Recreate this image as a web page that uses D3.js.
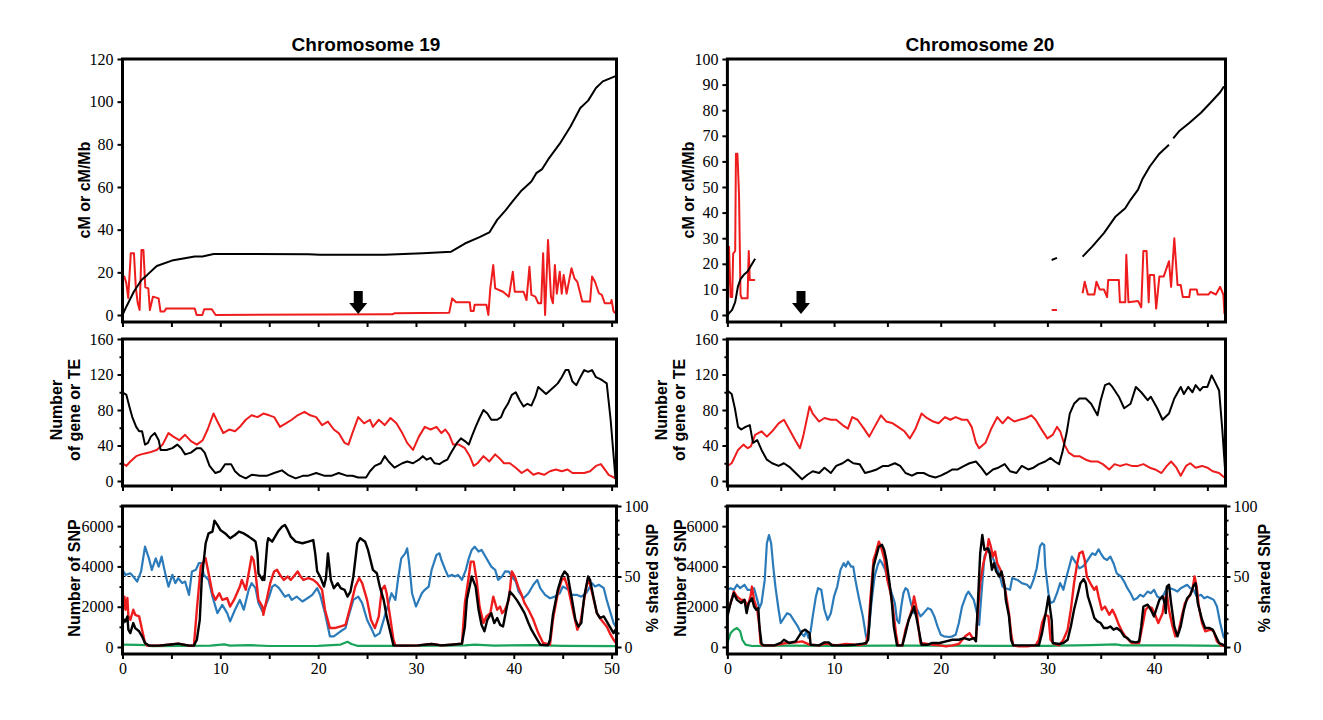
<!DOCTYPE html>
<html><head><meta charset="utf-8">
<script src="https://cdn.jsdelivr.net/npm/d3@7"></script>
<style>
body{margin:0;background:#fff;}
svg{display:block;}
</style></head><body>
<svg id="chart" width="1323" height="720"></svg>
<script>
// ---------------- DATA ----------------
const titles = ["Chromosome 19", "Chromosome 20"];
const chrLength = [50.5, 46.7];
const centromere = [24.1, 6.9];

const xTicks19 = [0,5,10,15,20,25,30,35,40,45,50];
const xTicks20 = [0,5,10,15,20,25,30,35,40,45];
const xLabels = [0,10,20,30,40,50];
const cmTicks19 = [0,20,40,60,80,100,120];
const cmTicks20 = [0,10,20,30,40,50,60,70,80,90,100];
const geneTicks = [0,40,80,120,160];
const geneMinor = [20,60,100,140];
const snpTicks = [0,2000,4000,6000];
const snpMinor = [1000,3000,5000,7000];
const pctTicks = [0,50,100];
const pctMinor = [10,20,30,40,60,70,80,90];
const snpMax = 7000;
const sharedThreshold = 50;

// chr19 genetic map (cM) and recombination rate (cM/Mb)
const cM19 = [[0,0],[0.39,3.9],[1.17,11],[1.94,16.4],[2.53,18.8],[3.5,23],[5.05,25.5],[7.38,27.4],[8.16,27.4],[9.32,28.6],[11.3,28.6],[19.0,28.5],[20.2,28.2],[26.8,28.2],[30.7,29],[33.6,29.7],[35.0,33.5],[36.5,36.5],[37.5,38.7],[38.3,44.6],[39.2,49.3],[40.0,54],[40.8,58.4],[41.8,62.6],[42.3,66.5],[42.9,68.4],[43.5,72.8],[44.7,80.3],[45.8,88.4],[46.8,97],[47.6,100.5],[48.4,106.4],[49.1,109.5],[50.4,112]];
const rate19 = [[0,18],[0.19,18],[0.39,15],[0.58,8],[0.85,29],[1.17,29],[1.36,13],[1.55,5.8],[1.75,2.3],[1.94,30.5],[2.14,30.5],[2.33,13],[2.64,12.5],[2.8,2.3],[3.11,8.6],[3.69,7.8],[3.89,1.6],[4.27,1.6],[4.47,3.1],[7.38,3.1],[7.58,0],[8.16,0],[8.35,2.7],[9.13,2.7],[9.52,0],[27.6,0.3],[27.8,0.8],[33.4,1.1],[33.7,7.8],[34.1,6],[35.5,6],[35.6,1.9],[35.9,1.9],[36.0,4.8],[37.2,4.8],[37.4,0],[37.6,12.5],[37.9,23.4],[38.1,12.5],[38.9,10.9],[39.5,8.6],[39.9,20.3],[40.1,10.9],[41.0,10.9],[41.3,7],[41.6,22.6],[41.8,9.4],[42.2,8.6],[42.5,5.5],[42.8,5.5],[43.0,29],[43.2,0],[43.5,35.2],[43.8,8.6],[44.0,5.5],[44.2,23.4],[44.4,10],[44.7,20.3],[44.9,10],[45.1,18.8],[45.4,10],[45.9,21.9],[46.2,17.2],[46.5,15.5],[47.0,6.3],[47.8,6.3],[48.0,18],[48.3,15.6],[48.7,10.2],[49.0,9.4],[49.3,5.5],[49.9,5.5],[50.0,7],[50.2,1.6],[50.4,0.8]];

// chr20 genetic map (cM) and recombination rate (cM/Mb); null = gap
const cM20 = [[0,0],[0.44,2],[0.73,5],[0.98,11],[1.23,14],[1.52,15.6],[1.89,17],[2.25,19.5],[2.6,22],[2.7,null],[30.4,21.5],[30.9,22.3],[31,null],[33.3,22.8],[34.2,26.7],[35.3,32],[36.4,38.5],[37.3,41.7],[37.8,45],[38.5,49],[38.9,53],[39.6,58],[40.5,63],[41.4,66.5],[41.6,null],[41.8,69],[42.4,72],[43.3,75],[44.4,79],[45.4,83.4],[46.2,87],[46.5,89],[46.7,89.3]];
const rate20 = [[0,0],[0.15,26.7],[0.3,7],[0.45,7],[0.54,24],[0.73,25],[0.8,63],[0.94,63],[1.09,47],[1.23,8],[1.34,6.5],[1.89,6.5],[2.0,25],[2.1,13.7],[2.6,13.7],[2.7,null],[30.4,2],[30.9,2],[31,null],[33.3,8.5],[33.5,13],[33.8,8],[34.4,8],[34.6,13],[34.9,10],[35.3,10],[35.6,7],[35.7,13.7],[36.7,13.7],[36.8,5],[37.3,5],[37.4,23.5],[37.6,5],[38.5,5.5],[38.8,3],[39.0,25],[39.3,25],[39.5,5],[39.6,15.6],[40.0,15.6],[40.2,2.5],[40.5,15],[40.9,15],[41.4,21],[41.6,11],[41.9,30],[42.2,11.7],[42.5,11.7],[42.7,7],[43.3,7],[43.4,10],[44.0,10],[44.1,8],[45.1,8],[45.3,9],[45.8,8],[46.2,11],[46.5,8],[46.6,0.6],[46.7,0]];

// number of genes (black) and TE (red) per window
const gene19 = [[0,100],[0.4,97],[0.7,84],[1.0,72],[1.4,61],[1.7,56],[2.0,56],[2.3,41],[2.6,43],[2.9,50],[3.3,54],[3.7,46],[3.9,35],[4.5,35],[5.1,37],[5.6,41],[6.0,37],[6.4,30],[7.0,32],[7.6,37],[8.0,37],[8.4,32],[8.9,17],[9.5,9],[10.0,11],[10.5,19],[11.1,19],[11.5,11],[12.0,6],[12.6,3],[13.2,7],[14.0,6],[14.8,6],[15.5,9],[16.3,12],[16.9,7],[17.7,3],[18.5,6],[19.0,6],[19.8,9],[20.6,6],[21.4,6],[22.1,9],[22.9,6],[23.5,6],[24.1,4],[24.9,4],[25.3,11],[25.8,17],[26.4,20],[26.8,28],[27.2,22],[27.8,15],[28.6,20],[29.1,22],[29.7,20],[30.3,24],[30.7,28],[31.1,24],[31.5,26],[31.9,20],[32.4,19],[32.8,22],[33.2,24],[33.6,32],[34.2,43],[34.6,48],[35.0,45],[35.4,41],[35.7,50],[36.1,61],[36.5,71],[36.9,80],[37.3,76],[37.7,69],[38.3,69],[38.7,72],[39.0,80],[39.4,87],[39.8,97],[40.2,100],[40.6,91],[41.0,84],[41.4,87],[41.8,85],[42.2,95],[42.5,106],[42.9,102],[43.3,98],[43.7,102],[44.1,106],[44.5,110],[44.9,117],[45.3,125],[45.6,125],[46.0,112],[46.4,108],[46.8,117],[47.2,125],[47.6,123],[48.0,125],[48.4,117],[48.8,115],[49.1,113],[49.5,110],[49.9,69],[50.4,2]];
const te19 = [[0,20],[0.4,17],[0.8,22],[1.4,28],[1.9,30],[2.7,32],[3.5,35],[4.1,41],[4.7,54],[5.2,50],[5.8,46],[6.4,52],[7.0,45],[7.6,41],[8.2,46],[8.7,58],[9.3,76],[9.7,67],[10.3,54],[10.9,58],[11.5,56],[12.0,61],[12.6,69],[13.2,74],[13.8,72],[14.4,76],[15.0,74],[15.5,72],[16.1,61],[16.7,65],[17.3,69],[17.9,74],[18.6,78],[19.2,74],[19.8,72],[20.4,63],[21.0,67],[21.6,58],[22.1,54],[22.7,43],[23.1,41],[23.5,54],[24.1,72],[24.7,65],[25.3,69],[25.6,61],[26.2,69],[26.8,63],[27.4,71],[28.0,65],[28.6,54],[29.1,43],[29.7,35],[30.3,50],[30.9,61],[31.5,58],[32.1,61],[32.6,54],[33.0,58],[33.4,52],[33.8,41],[34.4,41],[35.0,37],[35.5,28],[35.9,17],[36.3,20],[36.9,28],[37.5,22],[38.1,30],[38.5,26],[39.0,20],[39.6,20],[40.2,15],[40.8,9],[41.4,13],[42.0,7],[42.5,9],[43.1,7],[43.7,11],[44.3,13],[44.9,11],[45.5,13],[46.0,9],[46.6,9],[47.2,9],[47.8,11],[48.4,17],[48.9,19],[49.3,13],[49.7,7],[50.4,3]];
const gene20 = [[0,102],[0.4,98],[0.7,82],[1.0,61],[1.3,58],[1.7,61],[2.1,63],[2.4,43],[2.8,46],[3.2,35],[3.7,24],[4.2,20],[4.8,17],[5.3,20],[5.9,15],[6.4,9],[7.0,2],[7.5,7],[8.0,11],[8.6,9],[9.1,15],[9.7,9],[10.2,17],[10.8,20],[11.3,24],[11.8,20],[12.4,19],[12.9,9],[13.5,11],[14.0,13],[14.6,17],[15.1,17],[15.7,20],[16.2,17],[16.7,9],[17.3,6],[17.8,9],[18.4,9],[18.9,6],[19.5,4],[20.0,6],[20.5,9],[21.1,13],[21.6,13],[22.2,17],[22.7,20],[23.3,22],[23.8,15],[24.3,7],[24.9,13],[25.4,15],[26.0,19],[26.5,11],[27.1,9],[27.6,17],[28.2,13],[28.7,15],[29.2,19],[29.8,22],[30.3,26],[30.7,22],[31.1,19],[31.4,32],[31.8,54],[32.1,76],[32.5,87],[33.0,93],[33.6,93],[34.1,87],[34.7,74],[35.0,91],[35.4,108],[35.8,110],[36.1,106],[36.7,95],[37.2,82],[37.8,87],[38.3,106],[38.8,100],[39.4,91],[39.7,95],[40.3,82],[40.8,69],[41.4,76],[41.9,93],[42.5,106],[42.8,98],[43.2,106],[43.6,100],[43.9,108],[44.3,102],[44.6,106],[45.0,106],[45.4,119],[45.7,112],[46.1,102],[46.4,58],[46.7,6]];
const te20 = [[0,17],[0.4,20],[1.0,35],[1.5,41],[1.9,37],[2.2,39],[2.6,52],[3.2,56],[3.7,50],[4.2,56],[4.8,65],[5.3,69],[5.9,56],[6.4,45],[6.8,37],[7.1,50],[7.7,84],[8.0,76],[8.6,67],[9.1,71],[9.7,69],[10.2,69],[10.8,63],[11.3,59],[11.7,72],[12.2,69],[12.8,59],[13.3,50],[13.8,61],[14.4,74],[14.9,67],[15.5,65],[16.0,61],[16.6,56],[17.1,48],[17.6,58],[18.2,76],[18.7,71],[19.3,67],[19.8,65],[20.4,72],[20.9,69],[21.4,72],[22.0,69],[22.5,69],[22.9,61],[23.3,43],[23.6,37],[24.2,43],[24.7,58],[25.3,72],[25.8,65],[26.3,72],[26.9,67],[27.4,69],[28.0,71],[28.5,74],[28.9,69],[29.4,59],[30.0,48],[30.5,52],[30.9,61],[31.2,56],[31.6,41],[32.0,32],[32.5,28],[33.0,28],[33.6,24],[34.1,22],[34.7,22],[35.2,19],[35.8,13],[36.3,19],[36.8,17],[37.4,19],[37.9,17],[38.5,17],[39.0,19],[39.6,15],[40.1,13],[40.7,9],[41.2,17],[41.6,22],[42.1,15],[42.5,6],[43.0,17],[43.4,20],[43.9,15],[44.5,17],[45.0,15],[45.5,11],[46.1,9],[46.4,6],[46.7,3]];

// SNP counts per window
const snpBlue19 = [[0,3830],[0.3,3580],[0.8,3660],[1.1,3500],[1.5,3250],[1.9,3750],[2.3,4980],[2.7,4400],[3.0,3830],[3.4,4400],[3.7,3990],[4.0,4490],[4.4,3580],[4.7,3000],[5.1,3580],[5.4,3170],[5.7,3420],[6.1,3170],[6.4,3250],[6.8,2590],[7.1,3750],[7.5,3830],[7.8,4160],[8.1,4160],[8.3,3580],[8.8,3330],[9.2,2500],[9.7,1680],[10.2,2090],[10.7,1680],[11.0,1270],[11.5,1850],[12.0,2340],[12.4,1850],[12.9,2840],[13.2,3170],[13.6,2920],[13.9,2180],[14.3,1770],[14.6,2010],[15.0,2510],[15.3,3000],[15.6,3090],[16.0,2920],[16.6,2500],[17.0,2590],[17.3,2340],[17.8,2500],[18.4,2260],[18.9,2420],[19.4,2590],[19.9,2920],[20.2,2590],[20.7,1680],[21.2,530],[21.6,530],[22.3,780],[22.8,940],[23.1,1520],[23.6,2340],[24.1,2500],[24.5,2180],[25.0,1350],[25.5,860],[25.8,530],[26.3,690],[26.8,1520],[27.2,2180],[27.5,2670],[27.9,2340],[28.2,3500],[28.5,4400],[28.9,4650],[29.1,4900],[29.3,4160],[29.6,2670],[30.0,2010],[30.3,2340],[30.6,2670],[30.9,2840],[31.3,3000],[31.6,3830],[32.1,4570],[32.4,4650],[32.6,4320],[33.0,3830],[33.3,3500],[33.7,3580],[34.0,3500],[34.3,3580],[34.7,3330],[35.1,3830],[35.4,4400],[35.7,4820],[36.0,4980],[36.4,4740],[36.7,4820],[37.1,4490],[37.4,4240],[37.7,3990],[38.1,3830],[38.4,3330],[38.8,3500],[39.1,3750],[39.5,3740],[39.8,3500],[40.2,3250],[40.5,2750],[41.0,2420],[41.5,2670],[42.0,3090],[42.4,3330],[42.7,2920],[43.2,2590],[43.7,2420],[44.2,2500],[44.7,2670],[45.0,3000],[45.6,2840],[45.9,2590],[46.4,2590],[46.9,2500],[47.4,2670],[48.0,3170],[48.3,3000],[48.7,3090],[49.2,2920],[49.5,2340],[49.9,1680],[50.2,1190],[50.5,940]];
const snpRed19 = [[0,2010],[0.2,2500],[0.3,1850],[0.5,2430],[0.6,1520],[0.8,1350],[1.1,1850],[1.3,1600],[1.7,1520],[2.0,860],[2.3,200],[2.5,70],[3.7,70],[4.7,115],[5.7,165],[6.8,70],[7.3,70],[7.6,1850],[8.0,4000],[8.5,4400],[8.8,3660],[9.2,2670],[9.5,2340],[9.9,2670],[10.2,2340],[10.7,2420],[11.0,2010],[11.4,2340],[11.7,2670],[12.0,3000],[12.2,3330],[12.6,2840],[12.9,3660],[13.2,4490],[13.4,4320],[13.6,3660],[13.9,2340],[14.3,2010],[14.4,1600],[14.8,2500],[15.1,3170],[15.5,3750],[15.8,3830],[16.1,3580],[16.5,3330],[16.9,3500],[17.2,3330],[17.5,3500],[17.9,3750],[18.2,3500],[18.5,3330],[19.0,3420],[19.5,3330],[19.9,3170],[20.4,2840],[20.7,1850],[21.2,940],[21.7,940],[22.3,1020],[22.8,1100],[23.3,2010],[23.8,3000],[24.2,3420],[24.5,3170],[25.0,2340],[25.4,1350],[25.8,940],[26.2,1520],[26.5,2840],[26.8,3040],[27.0,2670],[27.3,1680],[27.7,360],[27.9,70],[28.9,70],[30.2,80],[31.6,150],[32.6,80],[33.6,115],[34.7,165],[35.0,2180],[35.4,3500],[35.6,4240],[35.9,4240],[36.2,3330],[36.5,2010],[36.9,1190],[37.2,1520],[37.6,1680],[37.9,2500],[38.3,1850],[38.6,2010],[38.8,1680],[39.1,1850],[39.5,2340],[39.8,3750],[40.1,3500],[40.5,2920],[40.8,2590],[41.1,2180],[41.5,1850],[42.0,1350],[42.5,690],[43.0,200],[43.7,120],[44.0,1350],[44.5,2670],[44.9,3330],[45.2,3420],[45.6,2840],[46.1,1680],[46.5,860],[46.8,1190],[47.3,2670],[47.6,3420],[47.9,2920],[48.5,1680],[48.8,1440],[49.2,1190],[49.5,1020],[49.9,610],[50.2,360],[50.5,165]];
const snpBlack19 = [[0,1100],[0.2,1350],[0.3,1270],[0.5,1520],[0.6,860],[0.8,690],[1.1,1190],[1.3,940],[1.7,780],[2.0,530],[2.3,200],[2.7,70],[3.7,70],[4.7,115],[5.7,165],[6.8,70],[7.3,70],[7.6,360],[7.9,1350],[8.1,3330],[8.5,5150],[8.8,5640],[9.2,5730],[9.4,6270],[9.7,6060],[10.0,5810],[10.5,5640],[11.0,5400],[11.5,5560],[11.9,5730],[12.4,5640],[12.9,5480],[13.4,5310],[13.6,5230],[13.8,4650],[13.9,3660],[14.3,3330],[14.4,3500],[14.5,3330],[14.8,5150],[14.9,5400],[15.3,5230],[15.6,5480],[15.9,5730],[16.3,5970],[16.6,6060],[16.8,5890],[17.2,5480],[17.7,5230],[18.4,5150],[19.0,5230],[19.5,5310],[19.7,4650],[19.9,3750],[20.2,3500],[20.6,3000],[20.8,3420],[21.0,4650],[21.3,3330],[21.6,2920],[22.0,3170],[22.3,2920],[22.7,2840],[23.0,2500],[23.3,2750],[23.6,3500],[24.0,5150],[24.3,5400],[24.8,5230],[25.1,4820],[25.6,3830],[26.0,3660],[26.3,3000],[26.7,2340],[27.0,1520],[27.4,690],[27.7,80],[28.9,70],[30.2,80],[31.6,150],[32.6,80],[33.6,115],[34.7,165],[35.0,1020],[35.2,2340],[35.7,3500],[36.1,3000],[36.4,1850],[36.7,1100],[37.0,780],[37.3,1350],[37.7,1680],[38.0,1190],[38.3,1440],[38.6,1100],[38.9,1020],[39.3,2010],[39.6,2750],[39.9,2590],[40.3,2340],[40.6,2100],[41.1,1680],[41.5,1190],[41.8,860],[42.3,445],[42.7,115],[43.5,80],[43.7,360],[44.0,1600],[44.5,2840],[44.9,3500],[45.2,3750],[45.5,3580],[45.9,2500],[46.3,1350],[46.6,1020],[46.9,1190],[47.2,2500],[47.6,3500],[47.8,3330],[48.2,2340],[48.5,1680],[48.8,1440],[49.2,1520],[49.5,1270],[49.9,940],[50.2,690],[50.5,940]];
const snpGreen19 = [[0,120],[1.5,110],[2.5,90],[3.0,40],[6,60],[9,70],[10.4,130],[11,70],[13,90],[15,50],[20,60],[22.3,120],[23.0,260],[23.4,150],[24,60],[30,60],[35,80],[36,120],[38,70],[42,90],[45,60],[50.5,40]];

const snpBlue20 = [[0,2840],[0.3,2920],[0.6,2840],[0.9,3090],[1.2,2920],[1.6,3090],[1.9,2840],[2.2,2840],[2.5,2920],[2.8,2340],[3.0,1930],[3.2,2180],[3.5,3330],[3.7,5150],[3.9,5560],[4.1,5150],[4.3,3990],[4.5,3000],[4.8,1850],[5.0,1190],[5.3,1440],[5.6,1680],[5.9,1600],[6.2,1350],[6.6,1020],[6.9,690],[7.2,530],[7.4,780],[7.6,445],[7.8,780],[8.0,1520],[8.3,2510],[8.5,2920],[8.8,2840],[9.1,1850],[9.4,1350],[9.7,1680],[10.0,2510],[10.3,3000],[10.6,3830],[10.9,4160],[11.1,3990],[11.3,4240],[11.6,3990],[11.8,3990],[12.0,3330],[12.3,2510],[12.7,1520],[13.0,530],[13.1,360],[13.3,1020],[13.5,2180],[13.8,3500],[14.1,4080],[14.3,4320],[14.5,4160],[14.8,3830],[15.2,3000],[15.5,2510],[15.7,2180],[15.9,1350],[16.1,1190],[16.3,2010],[16.5,2670],[16.7,2920],[16.9,2840],[17.2,2180],[17.5,1680],[17.8,1850],[18.1,1520],[18.4,1680],[18.8,1930],[19.1,1850],[19.4,1520],[19.7,1020],[20.0,610],[20.3,530],[20.8,495],[21.1,530],[21.4,610],[21.7,1190],[22.0,2010],[22.4,2590],[22.6,2750],[22.8,2590],[23.1,2340],[23.4,1680],[23.6,1100],[23.8,2500],[24.1,4500],[24.5,4900],[24.9,4400],[25.3,3900],[25.6,3400],[25.8,3000],[26.1,2920],[26.5,2840],[26.7,3420],[27.2,3330],[27.6,3170],[28.1,3090],[28.4,2920],[28.7,3330],[29.0,3910],[29.3,4980],[29.5,5150],[29.7,5070],[29.8,3990],[30.1,2670],[30.3,2180],[30.6,2260],[30.9,2670],[31.2,3170],[31.5,2840],[31.8,3500],[32.1,4080],[32.3,4490],[32.6,4240],[33.0,3910],[33.3,3990],[33.6,4160],[33.9,4410],[34.2,4650],[34.5,4570],[34.8,4850],[35.0,4650],[35.3,4410],[35.6,4320],[35.9,4490],[36.2,4160],[36.5,3660],[36.9,3500],[37.2,3250],[37.5,2920],[37.8,2670],[38.1,2340],[38.4,2420],[38.7,2590],[39.0,2500],[39.4,2750],[39.7,2670],[40.0,2840],[40.3,2510],[40.6,2420],[40.9,2590],[41.2,2920],[41.5,2920],[41.9,2840],[42.2,2750],[42.5,2920],[42.8,3000],[43.1,3090],[43.4,2920],[43.7,2840],[44.0,2510],[44.4,2590],[44.7,2420],[45.0,2500],[45.3,2420],[45.6,2340],[45.9,2010],[46.2,1190],[46.5,530],[46.7,360]];
const snpRed20 = [[0,1680],[0.3,2180],[0.6,2750],[0.9,2500],[1.3,2340],[1.6,2340],[1.9,2010],[2.2,2590],[2.3,3000],[2.5,2340],[2.8,1850],[3.0,1020],[3.1,200],[3.3,80],[4.5,80],[5.5,200],[6.4,230],[7.0,280],[7.7,115],[8.6,80],[9.2,165],[10.2,80],[11.1,150],[12.3,100],[13.0,165],[13.2,690],[13.4,2340],[13.7,4320],[13.9,4650],[14.2,5230],[14.4,4980],[14.7,4410],[15.0,3330],[15.3,2670],[15.5,2010],[15.8,690],[16.0,80],[16.4,80],[16.7,860],[17.0,1350],[17.3,1850],[17.5,2510],[17.7,2010],[17.9,1020],[18.1,200],[18.6,165],[19.2,115],[19.9,80],[20.5,33],[21.1,80],[21.7,150],[22.3,530],[22.7,690],[23.0,445],[23.3,400],[23.5,1850],[23.7,3170],[24.0,4160],[24.4,4980],[24.5,5350],[24.7,4980],[24.9,4490],[25.1,4740],[25.3,4160],[25.6,3830],[25.8,3500],[26.1,2670],[26.4,1680],[26.6,690],[26.8,80],[27.3,33],[28.1,33],[28.9,80],[29.2,360],[29.5,1190],[29.8,1600],[30.1,1520],[30.3,360],[30.6,165],[31.1,80],[31.5,360],[31.9,860],[32.2,1850],[32.5,3170],[32.8,4160],[33.0,4650],[33.3,4740],[33.5,4320],[33.7,3500],[34.1,3090],[34.4,2840],[34.6,3000],[34.8,2510],[35.1,1850],[35.4,2010],[35.8,1600],[36.1,1850],[36.4,1520],[36.7,1100],[37.0,780],[37.3,530],[37.6,360],[37.9,200],[38.6,200],[38.9,1020],[39.2,1850],[39.5,2010],[39.8,1930],[40.1,1600],[40.4,1190],[40.8,1680],[41.0,2340],[41.2,2670],[41.4,1850],[41.7,1100],[42.0,530],[42.3,780],[42.6,1520],[42.9,2180],[43.3,2510],[43.6,2840],[43.8,3500],[44.0,3000],[44.2,2010],[44.5,1190],[44.8,780],[45.3,860],[45.6,780],[45.9,280],[46.3,80],[46.7,33]];
const snpBlack20 = [[0,1520],[0.3,2180],[0.6,2670],[0.9,2340],[1.3,2180],[1.6,2340],[1.8,1680],[2.0,2180],[2.3,2420],[2.5,2010],[2.7,1850],[2.9,1930],[3.0,1020],[3.2,165],[3.4,80],[4.4,80],[5.0,200],[5.3,360],[5.8,200],[6.4,280],[6.7,530],[7.0,780],[7.3,860],[7.7,690],[7.8,115],[8.6,80],[9.1,230],[9.5,230],[9.8,80],[11.1,80],[12.0,115],[12.7,165],[13.0,200],[13.2,360],[13.4,1850],[13.7,3990],[13.9,4410],[14.2,4980],[14.5,5070],[14.7,4820],[14.9,4320],[15.2,3170],[15.4,2340],[15.6,1020],[15.9,80],[16.4,80],[16.7,690],[17.0,1350],[17.4,1850],[17.5,2010],[17.7,1520],[18.0,690],[18.2,115],[18.8,115],[19.2,200],[19.9,200],[20.5,280],[21.1,360],[21.7,360],[22.2,445],[22.7,360],[23.1,445],[23.3,280],[23.5,2340],[23.7,4650],[23.9,5560],[24.1,4820],[24.4,4900],[24.6,4650],[24.8,3830],[25.0,4160],[25.2,3750],[25.5,3500],[25.7,3750],[26.0,3000],[26.1,2340],[26.4,1520],[26.6,360],[26.8,80],[29.2,80],[29.5,690],[29.9,1850],[30.1,2510],[30.4,1350],[30.5,200],[31.1,150],[31.5,200],[31.9,360],[32.2,1020],[32.5,1850],[32.8,2510],[33.1,3170],[33.4,3370],[33.6,3170],[33.8,2510],[34.1,2010],[34.4,1440],[34.7,1270],[35.0,1190],[35.3,940],[35.6,940],[35.9,1020],[36.2,860],[36.5,940],[36.9,780],[37.2,530],[37.5,445],[37.8,280],[38.3,230],[38.6,280],[38.8,1020],[39.0,2010],[39.4,2100],[39.7,1850],[40.0,1520],[40.2,1850],[40.5,2340],[40.8,2510],[41.0,2180],[41.1,1680],[41.2,3000],[41.4,3090],[41.6,2180],[41.9,1020],[42.2,530],[42.5,1020],[42.8,1850],[43.1,2420],[43.4,2590],[43.7,3040],[43.9,3170],[44.1,2180],[44.5,1350],[44.8,940],[45.2,940],[45.5,860],[45.8,530],[46.1,200],[46.6,80],[46.7,115]];
const snpGreen20 = [[0,200],[0.3,690],[0.6,860],[0.9,940],[1.2,780],[1.4,360],[1.7,115],[2.3,50],[6,70],[10,60],[15,70],[20,70],[25,60],[30,60],[34,90],[36.4,130],[37,80],[42,80],[46.7,60]];

// ---------------- LAYOUT / STYLE ----------------
const colLayout = [{x0:122.5, x1:616.5}, {x0:727.4, x1:1225.5}];
const rowLayout = {
  top:{zero:315, max:59, bottom:322},
  mid:{zero:481, max:339, bottom:486},
  bot:{zero:647, max:506, bottom:654}
};
const C = {red:"#ee1c1c", black:"#000", blue:"#2b7bba", green:"#1aa35a"};
const serif = "Liberation Serif";
const sans = "Liberation Sans";
const fmt = d3.format("d");

const svg = d3.select("#chart");
svg.append("rect").attr("width",1323).attr("height",720).attr("fill","#fff");

const chrData = [
  {cM:cM19, rate:rate19, cmMax:120, cmTicks:cmTicks19, gene:gene19, te:te19,
   blue:snpBlue19, red:snpRed19, black:snpBlack19, green:snpGreen19, xTicks:xTicks19},
  {cM:cM20, rate:rate20, cmMax:100, cmTicks:cmTicks20, gene:gene20, te:te20,
   blue:snpBlue20, red:snpRed20, black:snpBlack20, green:snpGreen20, xTicks:xTicks20}
];

function styleAxis(g) {
  g.attr("font-family", serif).attr("font-size", 16);
  g.selectAll(".domain").remove();
  g.selectAll(".tick line").attr("stroke", "#000").attr("stroke-width", 2);
  g.selectAll(".tick text").attr("font-family", serif).attr("font-size", 16).attr("fill", "#000");
}

let clipId = 0;
function panel(x, row, y, yTicks, yMinor, showXLabels) {
  const g = svg.append("g");
  const [x0, x1] = x.range();
  const id = "clip" + (clipId++);
  svg.append("clipPath").attr("id", id).append("rect")
    .attr("x", x0).attr("y", row.max).attr("width", x1 - x0).attr("height", row.bottom - row.max);
  const plot = g.append("g").attr("clip-path", `url(#${id})`);
  g.append("g").attr("transform", `translate(${x0},0)`)
    .call(d3.axisLeft(y).tickValues(yTicks).tickSize(5).tickPadding(4).tickFormat(fmt)).call(styleAxis);
  if (yMinor) g.append("g").attr("transform", `translate(${x0},0)`)
    .call(d3.axisLeft(y).tickValues(yMinor).tickSize(3).tickFormat("")).call(styleAxis);
  g.append("g").attr("transform", `translate(0,${row.bottom})`)
    .call(d3.axisBottom(x).tickValues(x.ticksList).tickSize(5).tickPadding(4)
      .tickFormat(d => (showXLabels && xLabels.includes(d)) ? fmt(d) : "")).call(styleAxis);
  return {g, plot, frame: () => g.append("rect").attr("x", x0).attr("y", row.max)
      .attr("width", x1 - x0).attr("height", row.bottom - row.max)
      .attr("fill", "none").attr("stroke", "#000").attr("stroke-width", 3)};
}

function drawLine(parent, data, x, y, color, width) {
  parent.append("path").datum(data)
    .attr("fill", "none").attr("stroke", color).attr("stroke-width", width)
    .attr("stroke-linejoin", "round")
    .attr("d", d3.line().defined(d => d[1] !== null).x(d => x(d[0])).y(d => y(d[1])));
}

function vTitle(x, y, lines) {
  const t = svg.append("text").attr("transform", `translate(${x},${y}) rotate(-90)`)
    .attr("text-anchor", "middle").attr("font-family", sans).attr("font-weight", "bold")
    .attr("font-size", 16);
  lines.forEach((s, k) => t.append("tspan").attr("x", 0).attr("dy", k === 0 ? 0 : 18).text(s));
}

chrData.forEach((cd, i) => {
  const L = colLayout[i];
  const x = d3.scaleLinear().domain([0, chrLength[i]]).range([L.x0, L.x1]);
  x.ticksList = cd.xTicks;

  svg.append("text").attr("x", i === 0 ? 366 : 980).attr("y", 51)
    .attr("text-anchor", "middle").attr("font-family", sans).attr("font-weight", "bold")
    .attr("font-size", 19).text(titles[i]);

  // ---- top panel ----
  const yTop = d3.scaleLinear().domain([0, cd.cmMax]).range([rowLayout.top.zero, rowLayout.top.max]);
  const pT = panel(x, rowLayout.top, yTop, cd.cmTicks, null, false);
  drawLine(pT.plot, cd.rate, x, yTop, C.red, 2);
  drawLine(pT.plot, cd.cM, x, yTop, C.black, 2);
  pT.frame();
  const ax = x(centromere[i]), tip = yTop(0) - 1;
  svg.append("path").attr("fill", "#000")
    .attr("d", `M${ax-4.5},${tip-23}H${ax+4.5}V${tip-11}H${ax+9}L${ax},${tip}L${ax-9},${tip-11}H${ax-4.5}Z`);
  vTitle(i === 0 ? 90 : 694, 190, ["cM or cM/Mb"]);

  // ---- middle panel ----
  const yMid = d3.scaleLinear().domain([0, 160]).range([rowLayout.mid.zero, rowLayout.mid.max]);
  const pM = panel(x, rowLayout.mid, yMid, geneTicks, geneMinor, false);
  drawLine(pM.plot, cd.te, x, yMid, C.red, 2);
  drawLine(pM.plot, cd.gene, x, yMid, C.black, 2);
  pM.frame();
  vTitle(i === 0 ? 62 : 667, 410, ["Number", "of gene or TE"]);

  // ---- bottom panel ----
  const yBot = d3.scaleLinear().domain([0, snpMax]).range([rowLayout.bot.zero, rowLayout.bot.max]);
  const yPct = d3.scaleLinear().domain([0, 100]).range([rowLayout.bot.zero, rowLayout.bot.max]);
  const pB = panel(x, rowLayout.bot, yBot, snpTicks, snpMinor, true);
  pB.g.append("g").attr("transform", `translate(${L.x1},0)`)
    .call(d3.axisRight(yPct).tickValues(pctTicks).tickSize(5).tickPadding(3).tickFormat(fmt)).call(styleAxis);
  pB.g.append("g").attr("transform", `translate(${L.x1},0)`)
    .call(d3.axisRight(yPct).tickValues(pctMinor).tickSize(3).tickFormat("")).call(styleAxis);
  pB.plot.append("line").attr("x1", L.x0).attr("x2", L.x1)
    .attr("y1", yPct(sharedThreshold)).attr("y2", yPct(sharedThreshold))
    .attr("stroke", "#000").attr("stroke-width", 1).attr("stroke-dasharray", "3,2");
  drawLine(pB.plot, cd.green, x, yBot, C.green, 2.2);
  drawLine(pB.plot, cd.blue, x, yBot, C.blue, 2.2);
  drawLine(pB.plot, cd.red, x, yBot, C.red, 2.4);
  drawLine(pB.plot, cd.black, x, yBot, C.black, 2.4);
  pB.frame();
  vTitle(i === 0 ? 80 : 686, 578, ["Number of SNP"]);
  vTitle(i === 0 ? 658 : 1270, 578, ["% shared SNP"]);
});
</script>
</body></html>
